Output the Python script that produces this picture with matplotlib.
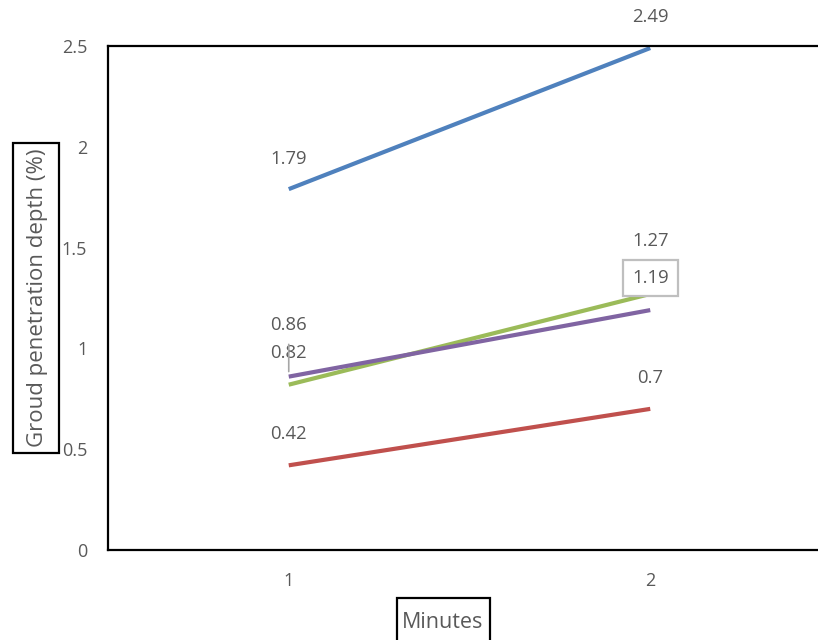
import matplotlib
matplotlib.use("Agg")
import matplotlib.pyplot as plt
from matplotlib.patches import Rectangle

plt.rcParams['font.family'] = ['Open Sans', 'DejaVu Sans']

minutes = [1, 2]
series_a = [1.79, 2.49]
series_b = [0.42, 0.70]
series_c = [0.82, 1.27]
series_d = [0.86, 1.19]
colors = ['#4F81BD', '#C0504D', '#9BBB59', '#8064A2']
y_ticks = [0, 0.5, 1, 1.5, 2, 2.5]
y_tick_labels = ['0', '0.5', '1', '1.5', '2', '2.5']

W, H = 818, 640
fig = plt.figure(figsize=(W / 100, H / 100), dpi=100)
ax = fig.add_axes([108 / W, 90 / H, (831 - 108) / W, (550 - 46) / H])

txt_color = '#595959'
for vals, c in zip([series_a, series_b, series_c, series_d], colors):
    ax.plot(minutes, vals, color=c, lw=3.0, solid_capstyle='butt')

ax.set_xlim(0.5, 2.5)
ax.set_ylim(0, 2.5)
ax.set_xticks(minutes)
ax.set_xticklabels([str(m) for m in minutes])
ax.set_yticks(y_ticks)
ax.set_yticklabels(y_tick_labels)
ax.tick_params(length=0, labelsize=13, colors=txt_color)
ax.tick_params(axis='y', pad=15)
ax.tick_params(axis='x', pad=16)
for s in ax.spines.values():
    s.set_color('black')
    s.set_linewidth(1.6)
ax.spines['right'].set_visible(False)

def label(x, y, dy, text, **kw):
    ax.annotate(text, xy=(x, y), xytext=(0, dy), textcoords='offset pixels',
                ha='center', va='center', fontsize=13.3, color=txt_color, **kw)

# value labels
label(1, series_a[0], 30, '1.79')
label(2, series_a[1], 31, '2.49')
label(1, series_b[0], 31, '0.42')
label(2, series_b[1], 31, '0.7')
label(2, series_c[1], 53, '1.27')
label(1, series_d[0], 52, '0.86')
label(2, series_d[1], 32, '1.19',
      bbox=dict(boxstyle='square,pad=0.5', fc='white', ec='#BFBFBF', lw=1.6))
label(1, series_c[0], 32, '0.82')
# leader line for the 0.82 label
ax.annotate('', xy=(1, series_d[0] + 0.025), xytext=(1, series_c[0] + 0.2),
            arrowprops=dict(arrowstyle='-', color='#A6A6A6', lw=1.2,
                            shrinkA=0, shrinkB=0))

# axis titles with framed boxes
fig.text(38 / W, 1 - 298 / H, 'Groud penetration depth (%)', rotation=90,
         ha='center', va='center', fontsize=16, color=txt_color)
fig.patches.append(Rectangle((13 / W, 1 - 453 / H), 46 / W, 310 / H,
                             transform=fig.transFigure, fill=False,
                             ec='black', lw=1.6))
fig.text(443 / W, 1 - 628 / H, 'Minutes', ha='center', va='baseline',
         fontsize=15.5, color=txt_color)
fig.patches.append(Rectangle((397 / W, -10 / H), 93 / W, 52 / H,
                             transform=fig.transFigure, fill=False,
                             ec='black', lw=1.6))

fig.savefig('out.png', dpi=100)
